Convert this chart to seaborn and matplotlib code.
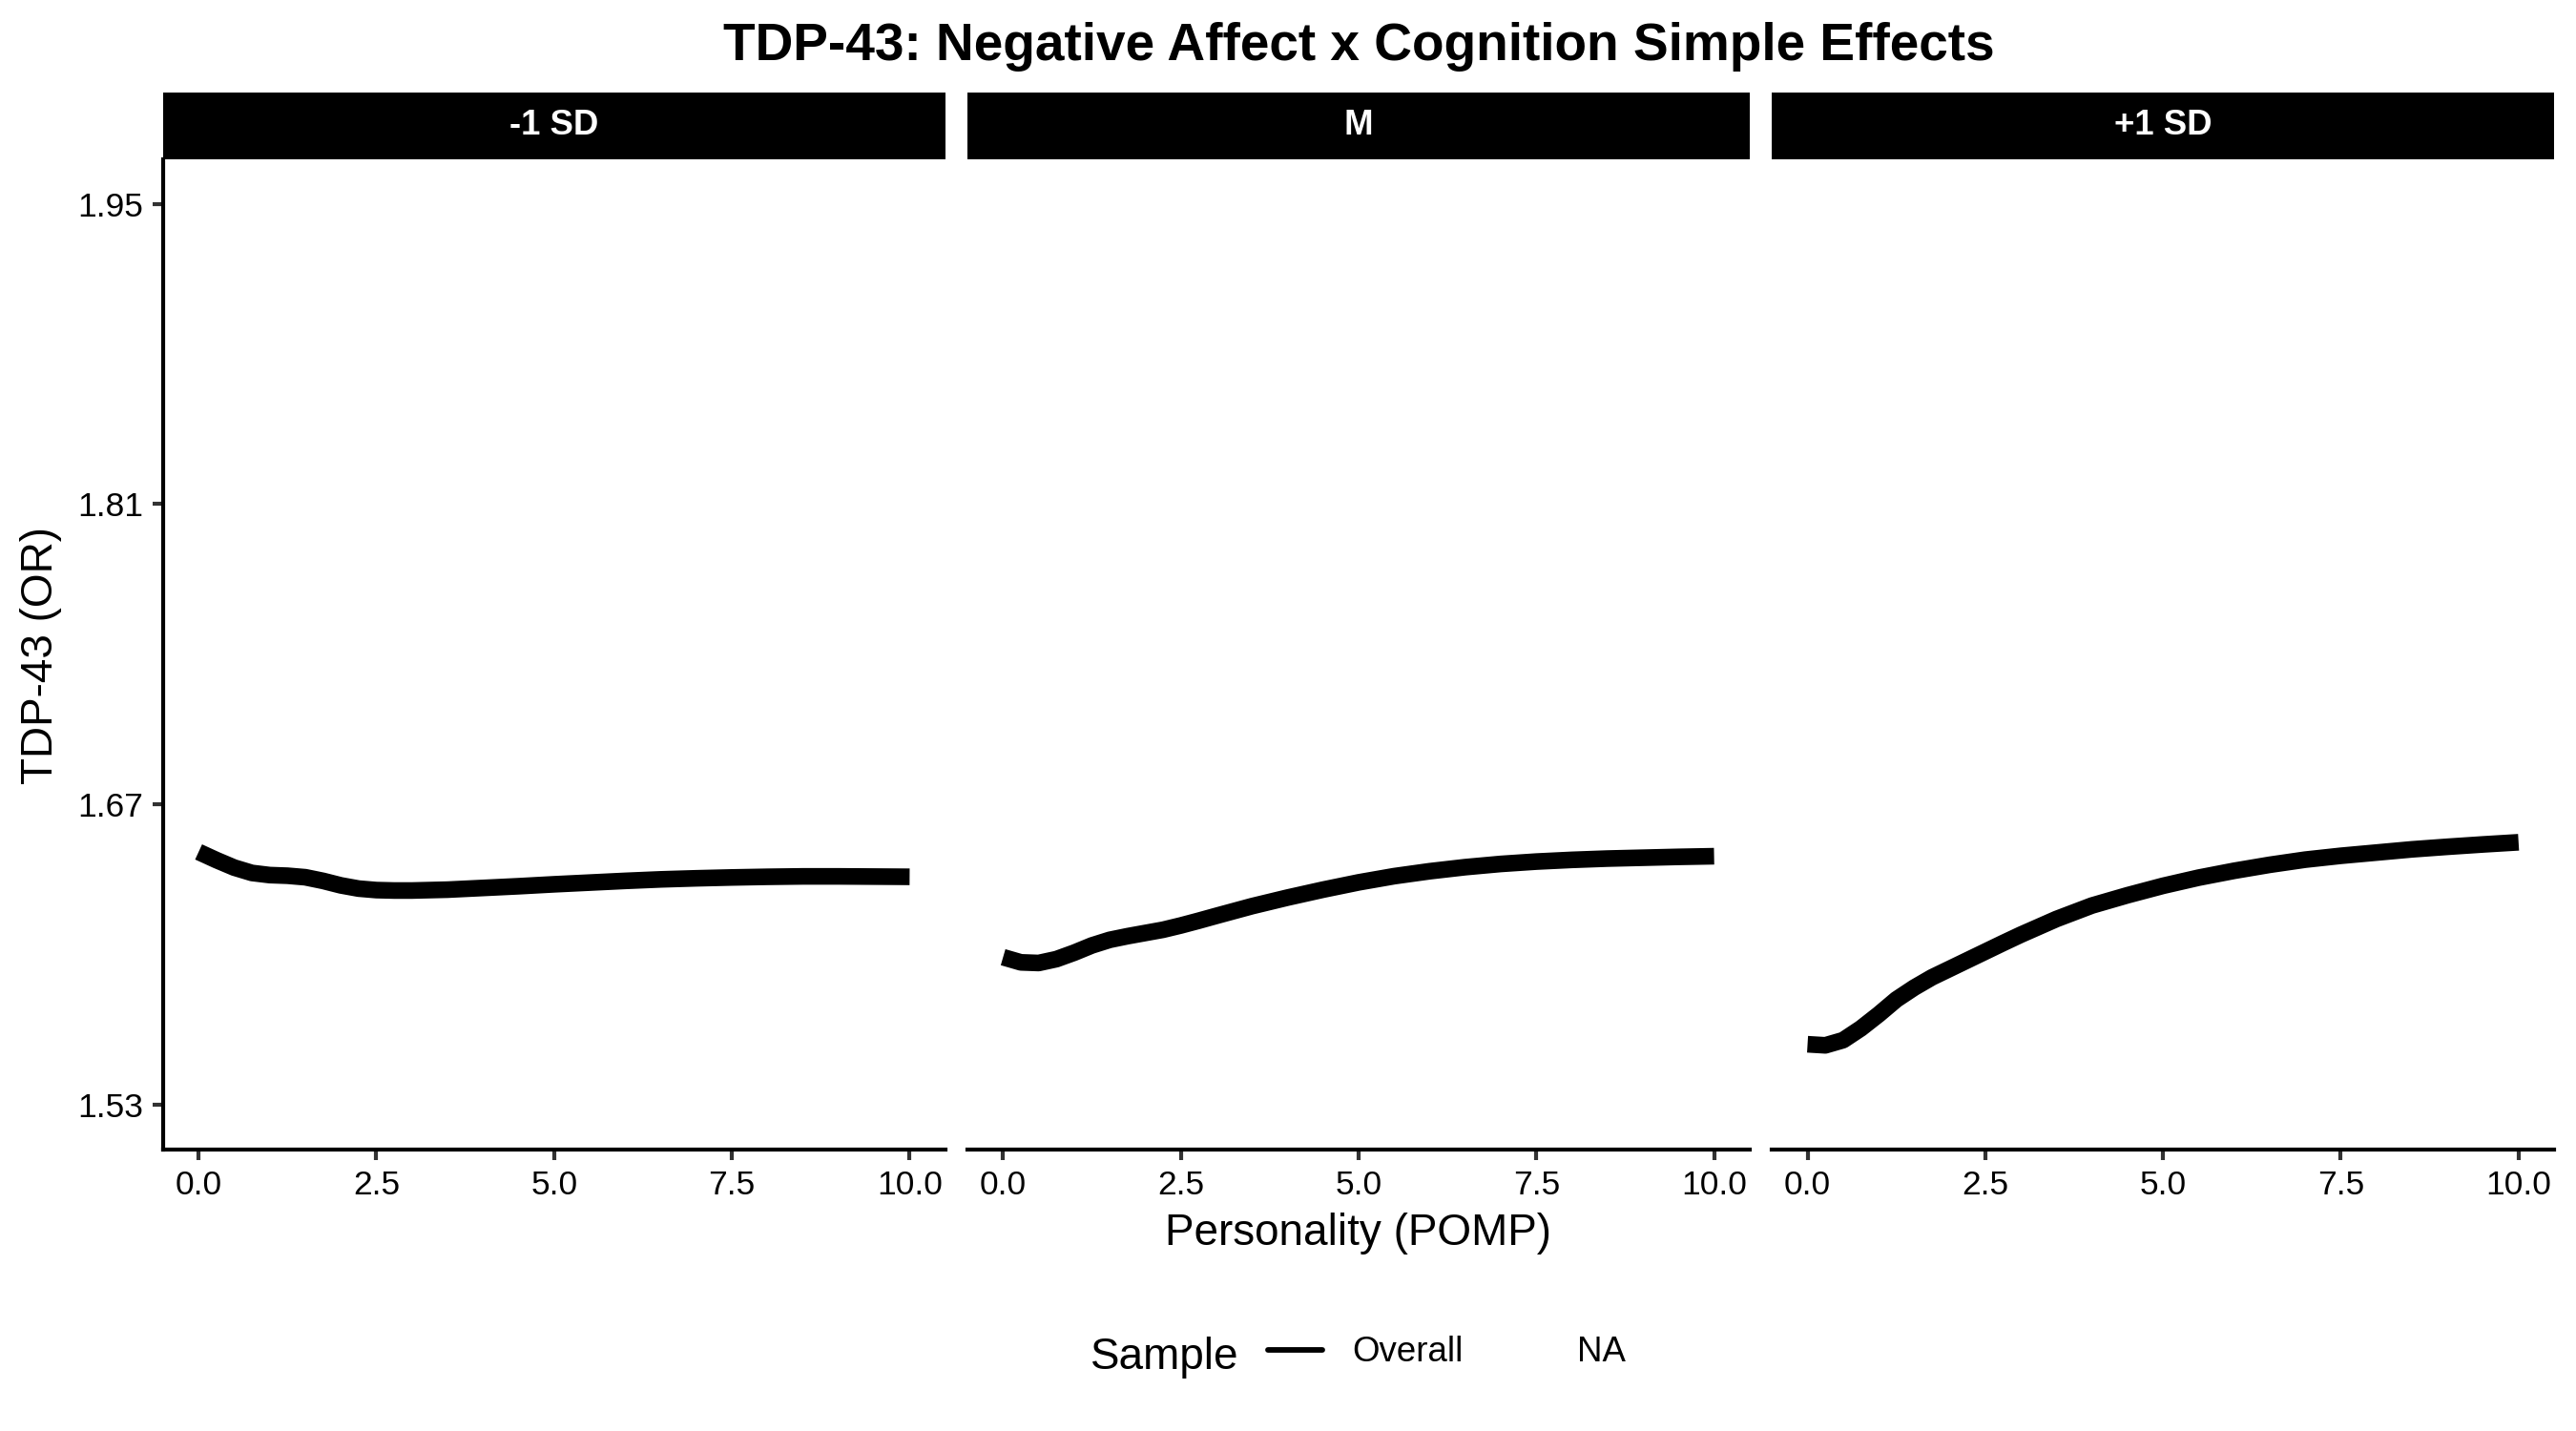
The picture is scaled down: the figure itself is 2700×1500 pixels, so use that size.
import numpy as np
import pandas as pd
import matplotlib
matplotlib.use('Agg')
import matplotlib.pyplot as plt
from matplotlib.patches import Rectangle
from matplotlib.lines import Line2D
import seaborn as sns

# values
pomp = [0, 0.25, 0.5, 0.75, 1.0, 1.25, 1.5, 1.75, 2.0, 2.25, 2.5, 2.75, 3.0,
        3.5, 4.0, 4.5, 5.0, 5.5, 6.0, 6.5, 7.0, 7.5, 8.0, 8.5, 9.0, 9.5, 10.0]
or_minus1sd = [1.6478, 1.6440, 1.6405, 1.6380, 1.6370, 1.6367, 1.6360, 1.6343, 1.6322,
               1.6307, 1.6300, 1.6298, 1.6298, 1.6302, 1.6310, 1.6318, 1.6327, 1.6335,
               1.6343, 1.6350, 1.6355, 1.6359, 1.6362, 1.6364, 1.6364, 1.6363, 1.6362]
or_mean = [1.5987, 1.5963, 1.5960, 1.5978, 1.6008, 1.6042, 1.6068, 1.6085, 1.6100,
           1.6115, 1.6135, 1.6157, 1.6180, 1.6225, 1.6265, 1.6302, 1.6336, 1.6365,
           1.6388, 1.6407, 1.6422, 1.6433, 1.6441, 1.6447, 1.6451, 1.6455, 1.6458]
or_plus1sd = [1.5581, 1.5576, 1.5600, 1.5655, 1.5720, 1.5790, 1.5845, 1.5893, 1.5933,
              1.5973, 1.6013, 1.6053, 1.6092, 1.6165, 1.6228, 1.6276, 1.6320, 1.6358,
              1.6390, 1.6418, 1.6442, 1.6460, 1.6475, 1.6490, 1.6502, 1.6513, 1.6523]
panels = ['-1 SD', 'M', '+1 SD']
y_ticks = [1.53, 1.67, 1.81, 1.95]
x_ticks = [0.0, 2.5, 5.0, 7.5, 10.0]

df = pd.DataFrame({
    'pomp': pomp * 3,
    'OR': or_minus1sd + or_mean + or_plus1sd,
    'level': np.repeat(panels, len(pomp)),
    'Sample': 'Overall',
})

sns.set_style('ticks')
plt.rcParams['font.family'] = ['Liberation Sans', 'DejaVu Sans']
plt.rcParams.update({'text.color': 'black', 'axes.labelcolor': 'black',
                     'xtick.color': 'black', 'ytick.color': 'black'})

g = sns.relplot(data=df, x='pomp', y='OR', col='level', col_order=panels,
                kind='line', color='black', linewidth=4.2, errorbar=None,
                legend=False, height=4, aspect=0.7)
fig = g.figure
fig.set_size_inches(9, 5)
fig.subplots_adjust(left=0.0633, right=0.9915, bottom=0.1967, top=0.8889, wspace=0.0286)

strip_h = 70 / 1038.3
for i, ax in enumerate(g.axes.flat):
    for line in ax.lines:
        line.set_solid_capstyle('butt')
        line.set_solid_joinstyle('round')
    ax.set_xlim(-0.5, 10.5)
    ax.set_ylim(1.509, 1.971)
    ax.set_xticks(x_ticks)
    ax.set_xticklabels([f'{t:.1f}' for t in x_ticks])
    ax.set_yticks(y_ticks)
    ax.set_yticklabels([f'{t:.2f}' for t in y_ticks])
    ax.set_title('')
    ax.set_xlabel('')
    ax.set_ylabel('')
    ax.tick_params(length=2.75, width=1.0, color='#333333', labelsize=8.5,
                   labelcolor='black', pad=2.2)
    for s in ['bottom', 'left']:
        ax.spines[s].set_linewidth(1.0)
        ax.spines[s].set_color('black')
    if i > 0:
        ax.spines['left'].set_visible(False)
        ax.tick_params(left=False, labelleft=False)
    # black facet strip
    ax.add_patch(Rectangle((0, 1), 1, strip_h, transform=ax.transAxes,
                           clip_on=False, facecolor='black', edgecolor='none'))
    ax.text(0.5, 1 + strip_h / 2, panels[i], transform=ax.transAxes, color='white',
            fontsize=8.8, weight='bold', ha='center', va='center')

fig.text(0.5274, 0.9578, 'TDP-43: Negative Affect x Cognition Simple Effects',
         ha='center', va='baseline', fontsize=13.2, weight='bold')
fig.text(0.5274, 0.13, 'Personality (POMP)', ha='center', va='baseline', fontsize=11)
fig.text(0.0204, 0.542, 'TDP-43 (OR)', rotation=90, rotation_mode='anchor',
         ha='center', va='baseline', fontsize=11)

# legend: title on the left, one line key and one empty key
fig.text(0.4235, 0.0433, 'Sample', ha='left', va='baseline', fontsize=11)
handles = [Line2D([], [], color='black', linewidth=1.4),
           Line2D([], [], color='none')]
fig.legend(handles, ['Overall', 'NA'], ncol=2, loc='center left',
           bbox_to_anchor=(0.4922, 0.0547), frameon=False, fontsize=8.8,
           handlelength=1.55, handletextpad=0.87, columnspacing=0.83,
           borderpad=0, borderaxespad=0)

fig.savefig('out.png', dpi=300, facecolor='white')
